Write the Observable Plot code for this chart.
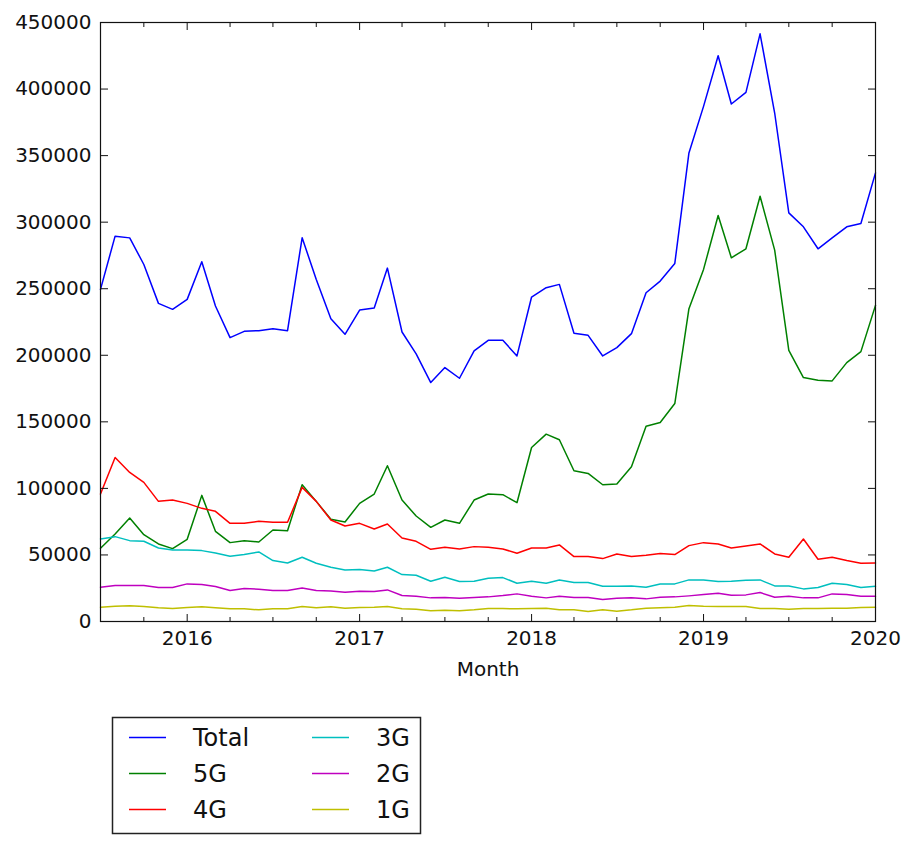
<!DOCTYPE html>
<html>
<head>
<meta charset="utf-8">
<script src="https://cdn.jsdelivr.net/npm/d3@7"></script>
<script src="https://cdn.jsdelivr.net/npm/@observablehq/plot@0.6"></script>
<style>
  body { margin: 0; background: #fff; font-family: "DejaVu Sans", sans-serif; }
  #wrap { position: relative; width: 911px; height: 841px; background: #fff; }
  #legend { position: absolute; left: 0; top: 0; }
</style>
</head>
<body>
<div id="wrap"><div id="chart"></div><div id="legend"></div></div>
<script>
// ---- data (monthly, starting 2015-07, 55 months) ----
const startMonth = "2015-07-01";
const series = ["Total", "5G", "4G", "3G", "2G", "1G"];
const colors = ["#0000ff", "#008000", "#ff0000", "#00bfbf", "#bf00bf", "#bfbf00"];

const total = [249500, 289500, 288200, 268200, 239000, 234500, 242000, 270250, 237000, 213250,
  218000, 218500, 220000, 218500, 288250, 257000, 227500, 215750, 234000, 235500,
  265500, 217500, 201000, 179500, 190750, 182750, 203250, 211250, 211250, 199500,
  243750, 250750, 253250, 216500, 215000, 199500, 205750, 216250, 247000, 255750,
  269000, 352000, 387000, 425000, 388750, 397500, 441500, 382000, 307000, 296500,
  280000, 288250, 296500, 299000, 337000];
const g5 = [55000, 65750, 77750, 65250, 58250, 54750, 61750, 94750, 67750, 59250,
  60750, 59750, 68750, 68250, 102750, 90250, 76750, 74750, 88750, 95750,
  117000, 91250, 79250, 70750, 76250, 73750, 91250, 95750, 95250, 89250,
  130750, 140750, 136500, 113250, 111250, 102750, 103250, 116250, 146750, 149500,
  163750, 235000, 264500, 305000, 273250, 280000, 319500, 279000, 203750, 183250,
  181250, 180750, 194500, 202750, 237500];
const g4 = [95750, 123250, 112000, 104500, 90250, 91250, 88750, 85000, 82750, 73750,
  73750, 75250, 74500, 74500, 100750, 90250, 76250, 71750, 73750, 69500,
  73250, 62750, 60250, 54250, 55750, 54500, 56250, 55750, 54500, 51250,
  55250, 55250, 57500, 48750, 48750, 47250, 50750, 48750, 49750, 51000,
  50250, 57000, 59250, 58250, 55250, 56750, 58250, 50750, 48250, 62000,
  46750, 48250, 45750, 43750, 44000];
const g3 = [62000, 63750, 60750, 60250, 55250, 53750, 53750, 53250, 51500, 49000,
  50250, 52250, 45750, 44000, 48250, 43750, 40750, 38750, 39000, 38000,
  40750, 35250, 34750, 30250, 33250, 30000, 30250, 32500, 33000, 28750,
  30250, 28750, 31250, 29250, 29250, 26500, 26500, 26750, 25750, 28250,
  28250, 31250, 31250, 30000, 30250, 31000, 31250, 26750, 26750, 24500,
  25500, 28750, 27750, 25500, 26500];
const g2 = [25750, 27000, 27000, 27000, 25500, 25500, 28250, 27750, 26250, 23250,
  24750, 24250, 23250, 23250, 25250, 23250, 23000, 22000, 22750, 22500,
  23750, 19500, 19000, 17750, 18000, 17500, 18000, 18500, 19500, 20750,
  19000, 17750, 19000, 18000, 18000, 16500, 17500, 17750, 17000, 18250,
  18500, 19250, 20250, 21250, 19750, 20000, 21750, 18250, 19000, 17750,
  17750, 20750, 20250, 19000, 19000];
const g1 = [10750, 11500, 11750, 11250, 10250, 9750, 10500, 11000, 10250, 9500,
  9500, 8750, 9500, 9500, 11250, 10250, 11000, 10000, 10500, 10750,
  11250, 9500, 9250, 8000, 8500, 8000, 8750, 9750, 9750, 9500,
  9750, 10000, 8750, 8750, 7500, 8750, 7750, 8750, 10000, 10250,
  10750, 12000, 11500, 11250, 11250, 11250, 9750, 9750, 9250, 9750,
  9750, 10000, 10000, 10500, 10750];

const yTicks = [0, 50000, 100000, 150000, 200000, 250000, 300000, 350000, 400000, 450000];
const xTickLabels = ["2016", "2017", "2018", "2019", "2020"];

// ---- build table ----
const start = new Date(startMonth + "T00:00:00Z");
const months = d3.utcMonth.range(start, d3.utcMonth.offset(start, total.length));
const valuesBySeries = [total, g5, g4, g3, g2, g1];
const rows = [];
series.forEach((s, k) => valuesBySeries[k].forEach((v, i) => rows.push({series: s, date: months[i], value: v})));

const xDomain = [start, months[months.length - 1]];
const majorX = xTickLabels.map(y => new Date(y + "-01-01T00:00:00Z"));
const minorX = d3.utcMonth.every(3).range(xDomain[0], d3.utcDay.offset(xDomain[1], 1)).filter(d => d.getUTCMonth() !== 0);
const blank = () => "";

const chart = Plot.plot({
  width: 911,
  height: 690,
  marginLeft: 100,
  marginRight: 36,
  marginTop: 22,
  marginBottom: 69,
  style: {fontFamily: "DejaVu Sans, sans-serif", fontSize: "20px", color: "#111", background: "#fff", overflow: "visible"},
  x: {type: "utc", domain: xDomain},
  y: {domain: [0, 450000]},
  color: {domain: series, range: colors},
  marks: [
    Plot.line(rows, {x: "date", y: "value", z: "series", stroke: "series", strokeWidth: 1.5}),
    Plot.frame({stroke: "#111", strokeWidth: 1.2}),
    Plot.axisY({anchor: "left", ticks: yTicks, tickSize: -8, tickPadding: 17, tickFormat: d3.format("d"), label: null}),
    Plot.axisY({anchor: "right", ticks: yTicks, tickSize: -8, tickFormat: blank, label: null}),
    Plot.axisX({anchor: "bottom", ticks: majorX, tickSize: -7, tickPadding: 16, tickFormat: d3.utcFormat("%Y"),
      label: "Month", labelAnchor: "center", labelArrow: "none", labelOffset: 54}),
    Plot.axisX({anchor: "bottom", ticks: minorX, tickSize: -4, tickFormat: blank, label: null}),
    Plot.axisX({anchor: "top", ticks: majorX, tickSize: -7, tickFormat: blank, label: null}),
    Plot.axisX({anchor: "top", ticks: minorX, tickSize: -4, tickFormat: blank, label: null})
  ]
});
document.getElementById("chart").appendChild(chart);

// ---- legend below the chart ----
const legendSvg = d3.select("#legend").append("svg")
  .attr("width", 911).attr("height", 841)
  .style("position", "absolute").style("left", "0px").style("top", "0px")
  .style("pointer-events", "none");
legendSvg.append("rect")
  .attr("x", 112.5).attr("y", 717.5).attr("width", 308).attr("height", 116)
  .attr("fill", "#fff").attr("stroke", "#222").attr("stroke-width", 1.5);
series.forEach((s, k) => {
  const col = Math.floor(k / 3), row = k % 3;
  const lx = 129 + col * 183, ly = 737.5 + row * 36;
  legendSvg.append("line").attr("x1", lx).attr("x2", lx + 37).attr("y1", ly).attr("y2", ly)
    .attr("stroke", colors[k]).attr("stroke-width", 1.5);
  legendSvg.append("text").attr("x", lx + 64).attr("y", ly + 8.5)
    .attr("font-family", "DejaVu Sans, sans-serif").attr("font-size", 24).attr("fill", "#111")
    .text(s);
});
</script>
</body>
</html>
